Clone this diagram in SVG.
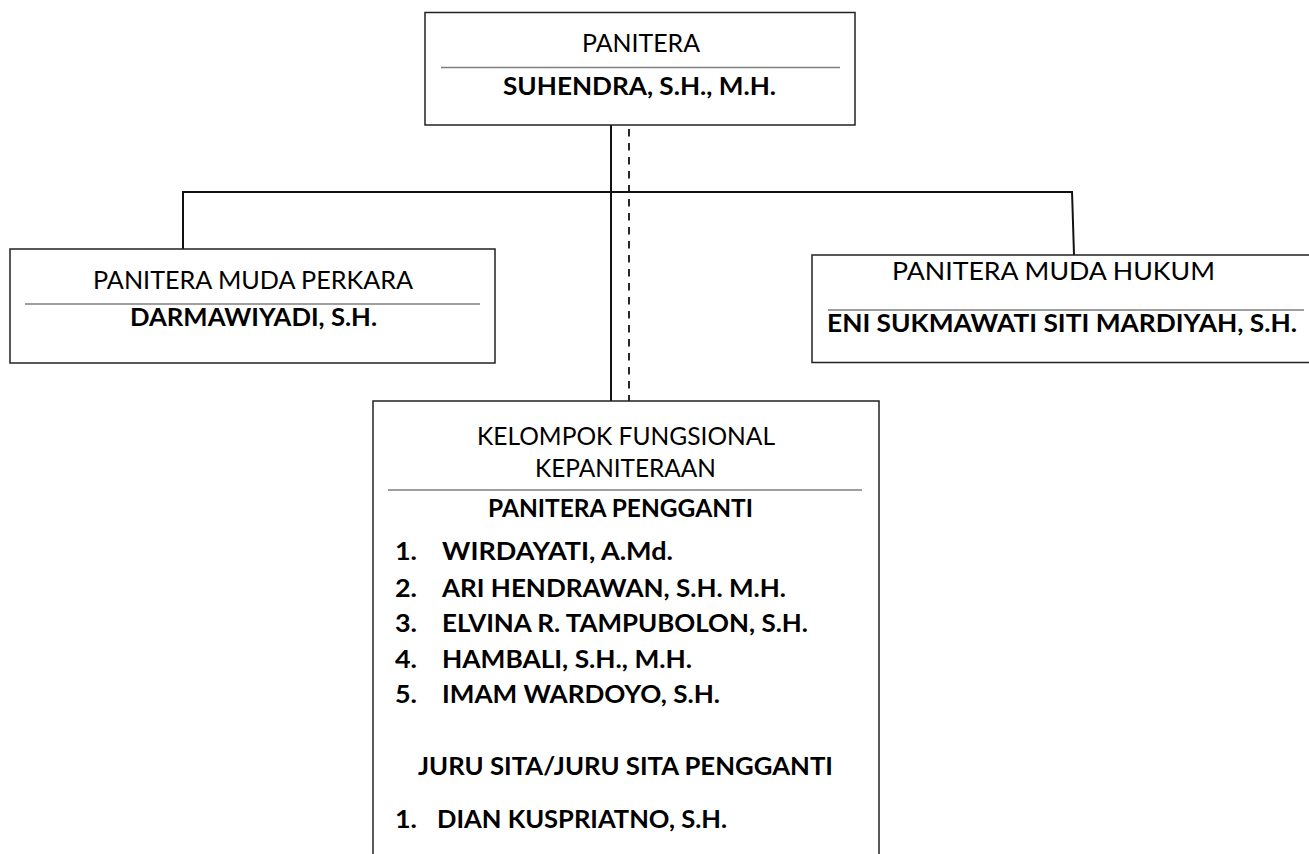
<svg xmlns="http://www.w3.org/2000/svg" width="1309" height="854" viewBox="0 0 1309 854">
<style>
.box{fill:#fff;stroke:#222;stroke-width:1.5}
.div{stroke:#7f7f7f;stroke-width:1.4}
.con{stroke:#111;stroke-width:2;fill:none}
.dash{stroke:#111;stroke-width:1.8;stroke-dasharray:7.5 6.5;fill:none}
text{font-family:Lato,"Open Sans","Liberation Sans",sans-serif;font-size:24.5px;fill:#000}
.b{font-weight:bold}
</style>
<rect width="1309" height="854" fill="#fff"/>
<g id="connectors">
<line class="con" x1="611" y1="125" x2="611" y2="401"/>
<line class="dash" x1="629" y1="129" x2="629" y2="401"/>
<line class="con" x1="182" y1="192" x2="1073" y2="192"/>
<line class="con" x1="183" y1="191" x2="183" y2="249"/>
<line class="con" x1="1072" y1="191" x2="1074" y2="255"/>
</g>
<g id="panitera">
<rect class="box" x="425" y="12.5" width="430" height="112.5"/>
<line class="div" x1="441" y1="67.5" x2="840" y2="67.5"/>
<text x="582" y="52" textLength="118" lengthAdjust="spacingAndGlyphs">PANITERA</text>
<text class="b" x="503" y="95" textLength="273" lengthAdjust="spacingAndGlyphs">SUHENDRA, S.H., M.H.</text>
</g>
<g id="pm-perkara">
<rect class="box" x="10" y="249" width="485" height="114"/>
<line class="div" x1="25" y1="304" x2="480" y2="304"/>
<text x="93" y="289" textLength="320" lengthAdjust="spacingAndGlyphs">PANITERA MUDA PERKARA</text>
<text class="b" x="130" y="326" textLength="247" lengthAdjust="spacingAndGlyphs">DARMAWIYADI, S.H.</text>
</g>
<g id="pm-hukum">
<rect class="box" x="812" y="255" width="500" height="107.5"/>
<line class="div" x1="828" y1="310" x2="1304" y2="310"/>
<text x="892" y="280" textLength="323" lengthAdjust="spacingAndGlyphs">PANITERA MUDA HUKUM</text>
<text class="b" x="827" y="332" textLength="470" lengthAdjust="spacingAndGlyphs">ENI SUKMAWATI SITI MARDIYAH, S.H.</text>
</g>
<g id="kelompok">
<rect class="box" x="373" y="401" width="506" height="470"/>
<line class="div" x1="388" y1="490" x2="862" y2="490"/>
<text x="477" y="445" textLength="298" lengthAdjust="spacingAndGlyphs">KELOMPOK FUNGSIONAL</text>
<text x="535" y="477" textLength="181" lengthAdjust="spacingAndGlyphs">KEPANITERAAN</text>
<text class="b" x="488" y="517" textLength="265" lengthAdjust="spacingAndGlyphs">PANITERA PENGGANTI</text>
<text class="b" x="395" y="560" textLength="22" lengthAdjust="spacingAndGlyphs">1.</text>
<text class="b" x="442" y="560" textLength="231" lengthAdjust="spacingAndGlyphs">WIRDAYATI, A.Md.</text>
<text class="b" x="395" y="597" textLength="22" lengthAdjust="spacingAndGlyphs">2.</text>
<text class="b" x="442" y="597" textLength="344" lengthAdjust="spacingAndGlyphs">ARI HENDRAWAN, S.H. M.H.</text>
<text class="b" x="395" y="632" textLength="22" lengthAdjust="spacingAndGlyphs">3.</text>
<text class="b" x="442" y="632" textLength="366" lengthAdjust="spacingAndGlyphs">ELVINA R. TAMPUBOLON, S.H.</text>
<text class="b" x="395" y="668" textLength="22" lengthAdjust="spacingAndGlyphs">4.</text>
<text class="b" x="442" y="668" textLength="250" lengthAdjust="spacingAndGlyphs">HAMBALI, S.H., M.H.</text>
<text class="b" x="395" y="703" textLength="22" lengthAdjust="spacingAndGlyphs">5.</text>
<text class="b" x="442" y="703" textLength="278" lengthAdjust="spacingAndGlyphs">IMAM WARDOYO, S.H.</text>
<text class="b" x="418" y="775" textLength="415" lengthAdjust="spacingAndGlyphs">JURU SITA/JURU SITA PENGGANTI</text>
<text class="b" x="395" y="828" textLength="22" lengthAdjust="spacingAndGlyphs">1.</text>
<text class="b" x="437" y="828" textLength="290" lengthAdjust="spacingAndGlyphs">DIAN KUSPRIATNO, S.H.</text>
</g>
</svg>
